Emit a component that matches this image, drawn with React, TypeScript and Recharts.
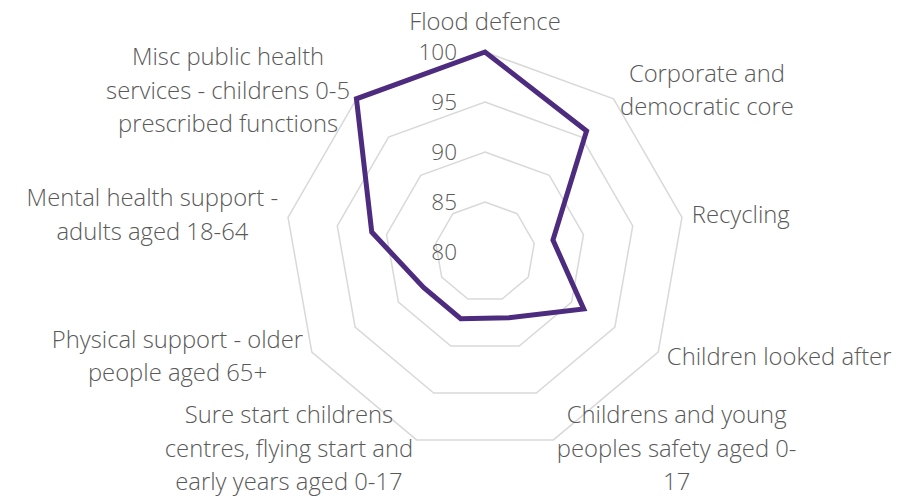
import { RadarChart, Radar, PolarGrid, PolarAngleAxis, PolarRadiusAxis } from "recharts";

// spending categories, wrapped the way the source chart wraps them
const categories = [
  "Flood defence",
  "Corporate and\ndemocratic core",
  "Recycling",
  "Children looked after",
  "Childrens and young\npeoples safety aged 0-\n17",
  "Sure start childrens\ncentres, flying start and\nearly years aged 0-17",
  "Physical support - older\npeople aged 65+",
  "Mental health support -\nadults aged 18-64",
  "Misc public health\nservices - childrens 0-5\nprescribed functions",
];
const scores = [100, 95.8, 86.9, 91.4, 87, 87.1, 87.1, 91.5, 100];
const radiusTicks = [80, 85, 90, 95, 100];

const data = categories.map((name, i) => ({ name, score: scores[i] }));

const W = 910;
const H = 496;
const CX = 485;
const CY = 252;
const R = 200;
const FONT = "'Open Sans', sans-serif";
const FS = 23.8;
const LH = 33.5;
const TEXT = "#595959";

let ctx: CanvasRenderingContext2D | null = null;
function textWidth(s: string) {
  if (!ctx) ctx = document.createElement("canvas").getContext("2d");
  if (!ctx) return s.length * FS * 0.55;
  ctx.font = `300 ${FS}px 'Open Sans'`;
  return ctx.measureText(s).width;
}

function AngleTick(props: any) {
  const { payload, index = 0 } = props;
  const deg = typeof payload?.coordinate === "number" ? payload.coordinate : 90 - index * (360 / categories.length);
  const a = (deg * Math.PI) / 180;
  const cos = Math.cos(a);
  const sin = Math.sin(a);
  const px = CX + (R + 10) * cos;
  const py = CY - (R + 10) * sin;
  const lines = String(payload?.value ?? "").split("\n");
  const w = Math.max(...lines.map(textWidth));
  let mx = px;
  if (cos > 0.1) mx = px + w / 2;
  else if (cos < -0.1) mx = px - w / 2;
  let my = py;
  if (Math.abs(cos) <= 0.1) my = sin > 0 ? py - (lines.length * LH) / 2 - 3 : py + (lines.length * LH) / 2;
  return (
    <text textAnchor="middle" fill={TEXT} fontSize={FS} fontWeight={300} fontFamily={FONT}>
      {lines.map((l, i) => (
        <tspan key={i} x={mx} y={my + (i - (lines.length - 1) / 2) * LH + 7.5}>
          {l}
        </tspan>
      ))}
    </text>
  );
}

function RadiusTick(props: any) {
  const { x, y, payload } = props;
  return (
    <text x={x - 28} y={y + 8} textAnchor="end" fill={TEXT} fontSize={22.5} fontWeight={300} fontFamily={FONT}>
      {payload.value}
    </text>
  );
}

export default function App() {
  return (
    <div style={{ position: "absolute", left: 0, top: 0, width: W, height: H, background: "#fff" }}>
      <RadarChart width={W} height={H} data={data} cx={CX} cy={CY} outerRadius={R} margin={{ top: 0, right: 0, bottom: 0, left: 0 }}>
        <PolarGrid gridType="polygon" radialLines={false} stroke="#d9d9d9" strokeWidth={1.5} />
        <PolarAngleAxis dataKey="name" tick={<AngleTick />} tickLine={false} axisLine={false} />
        <PolarRadiusAxis
          angle={90}
          domain={[80, 100]}
          ticks={radiusTicks as any}
          tickCount={5}
          tick={<RadiusTick />}
          axisLine={false}
          tickLine={false}
        />
        <Radar
          dataKey="score"
          stroke="#4d2c80"
          strokeWidth={5}
          fill="none"
          fillOpacity={0}
          dot={false}
          isAnimationActive={false}
        />
      </RadarChart>
    </div>
  );
}
